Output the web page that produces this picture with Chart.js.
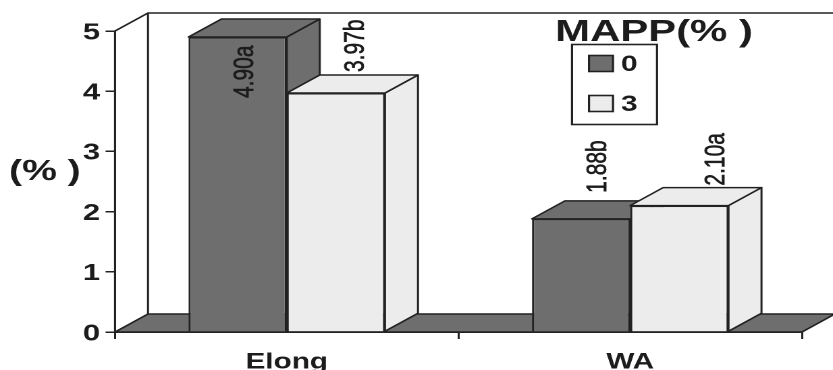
<!DOCTYPE html>
<html>
<head>
<meta charset="utf-8">
<title>MAPP</title>
<script src="https://cdn.jsdelivr.net/npm/chart.js@4"></script>
<style>
    html, body { margin: 0; padding: 0; background: #fff; overflow: hidden; }
    /* the figure is drawn narrow and widened, so the text gets its wide look too */
    #wrap { width: 833px; height: 370px; overflow: hidden; }
    #chart { display: block; transform: scaleX(1.35); transform-origin: 0 0; }
</style>
</head>
<body>
<div id="wrap"><canvas id="chart"></canvas></div>
<script>
var categories = ['Elong', 'WA'];
var seriesNames = ['0', '3'];
var values0 = [4.90, 1.88];
var values3 = [3.97, 2.10];
var labels0 = ['4.90a', '1.88b'];
var labels3 = ['3.97b', '2.10a'];
var yTicks = [0, 1, 2, 3, 4, 5];

var STRETCH = 1.35;
var WIDTH = Math.round(833 / STRETCH);
var HEIGHT = 370;
var DEPTH_X = 33 / STRETCH;
var DEPTH_Y = 18;
var LINE = '#222222';
var LINE_W = 1.5;
var DARK = '#6e6e6e';
var LIGHT = '#ececec';
var TEXT = '#1c1c1c';
var FONT = '"Liberation Sans", Arial, sans-serif';

// where each value label sits, relative to the bar centre and top: [dx, dy]
var labelShift0 = [[8, 61], [17, -26]];
var labelShift3 = [[20, -21], [37, -20]];

function rx(x) {
    return x / STRETCH;
}

function poly(ctx, pts, fill) {
    ctx.beginPath();
    ctx.moveTo(pts[0][0], pts[0][1]);
    for (var i = 1; i < pts.length; i++) {
        ctx.lineTo(pts[i][0], pts[i][1]);
    }
    ctx.closePath();
    if (fill) {
        ctx.fillStyle = fill;
        ctx.fill();
    }
    ctx.stroke();
}

// floor, walls and the top/side faces; the library paints the front faces afterwards
var box3d = {
    id: 'box3d',
    beforeDatasetsDraw: function(chart) {
        var ctx = chart.ctx;
        var area = chart.chartArea;
        var l = area.left, r = area.right, t = area.top, b = area.bottom;

        ctx.save();
        ctx.strokeStyle = LINE;
        ctx.lineWidth = LINE_W;
        ctx.lineJoin = 'round';

        poly(ctx, [[l, b], [l + DEPTH_X, b - DEPTH_Y], [r + DEPTH_X, b - DEPTH_Y], [r, b]], DARK);

        ctx.beginPath();
        ctx.moveTo(l, b);
        ctx.lineTo(l, t);
        ctx.lineTo(l + DEPTH_X, t - DEPTH_Y);
        ctx.lineTo(l + DEPTH_X, b - DEPTH_Y);
        ctx.moveTo(l + DEPTH_X, t - DEPTH_Y);
        ctx.lineTo(r + DEPTH_X, t - DEPTH_Y);
        ctx.stroke();

        chart.data.datasets.forEach(function(ds, i) {
            chart.getDatasetMeta(i).data.forEach(function(bar) {
                var x0 = bar.x - bar.width / 2;
                var x1 = bar.x + bar.width / 2;
                poly(ctx, [[x1, bar.y], [x1 + DEPTH_X, bar.y - DEPTH_Y], [x1 + DEPTH_X, bar.base - DEPTH_Y], [x1, bar.base]], ds.backgroundColor);
                poly(ctx, [[x0, bar.y], [x0 + DEPTH_X, bar.y - DEPTH_Y], [x1 + DEPTH_X, bar.y - DEPTH_Y], [x1, bar.y]], ds.backgroundColor);
            });
        });
        ctx.restore();
    }
};

// rotated value labels, axis caption and the legend block
var annotations = {
    id: 'annotations',
    afterDatasetsDraw: function(chart) {
        var ctx = chart.ctx;
        var allLabels = [labels0, labels3];
        var allShifts = [labelShift0, labelShift3];

        ctx.save();
        ctx.fillStyle = TEXT;
        ctx.strokeStyle = TEXT;
        ctx.lineWidth = 0.5;
        ctx.textBaseline = 'middle';
        ctx.textAlign = 'left';
        ctx.font = '21px ' + FONT;
        chart.data.datasets.forEach(function(ds, i) {
            chart.getDatasetMeta(i).data.forEach(function(bar, j) {
                ctx.save();
                ctx.translate(bar.x + rx(allShifts[i][j][0]), bar.y + allShifts[i][j][1]);
                ctx.rotate(-Math.PI / 2);
                ctx.fillText(allLabels[i][j], 0, 0);
                ctx.strokeText(allLabels[i][j], 0, 0);
                ctx.restore();
            });
        });

        ctx.textBaseline = 'alphabetic';
        ctx.font = 'bold 29px ' + FONT;
        ctx.fillText('(% )', rx(9), 180);

        ctx.textAlign = 'center';
        ctx.font = 'bold 31px ' + FONT;
        ctx.fillText('MAPP(% )', rx(654), 41);

        ctx.strokeStyle = LINE;
        ctx.lineWidth = 1.6;
        ctx.strokeRect(rx(572), 44.5, rx(85), 80);

        ctx.textAlign = 'left';
        ctx.font = 'bold 22px ' + FONT;
        chart.data.datasets.forEach(function(ds, i) {
            var y = 55.5 + i * 40;
            ctx.fillStyle = ds.backgroundColor;
            ctx.fillRect(rx(589), y, rx(24), 16);
            ctx.strokeRect(rx(589), y, rx(24), 16);
            ctx.fillStyle = TEXT;
            ctx.fillText(ds.label, rx(621), y + 15.5);
        });
        ctx.restore();
    }
};

var canvas = document.getElementById('chart');
canvas.width = WIDTH;
canvas.height = HEIGHT;

new Chart(canvas.getContext('2d'), {
    type: 'bar',
    data: {
        labels: categories,
        datasets: [
            { label: seriesNames[0], data: values0, backgroundColor: DARK, borderColor: LINE, borderWidth: LINE_W, clip: false },
            { label: seriesNames[1], data: values3, backgroundColor: LIGHT, borderColor: LINE, borderWidth: LINE_W, clip: false }
        ]
    },
    options: {
        responsive: false,
        animation: false,
        devicePixelRatio: 2,
        categoryPercentage: 0.572,
        barPercentage: 1,
        layout: {
            padding: { top: 31, right: WIDTH - rx(802), bottom: 0, left: 0 }
        },
        plugins: {
            legend: { display: false },
            title: { display: false },
            tooltip: { enabled: false }
        },
        scales: {
            x: {
                afterFit: function(scale) { scale.height = HEIGHT - 332; },
                grid: { drawOnChartArea: false, tickLength: 7, color: LINE, lineWidth: LINE_W },
                border: { color: LINE, width: LINE_W },
                ticks: { color: TEXT, padding: 10, maxRotation: 0, font: { family: FONT, size: 22, weight: 'bold' } }
            },
            y: {
                min: 0,
                max: 5,
                afterFit: function(scale) { scale.width = rx(115); },
                afterBuildTicks: function(scale) {
                    scale.ticks = yTicks.map(function(v) { return { value: v }; });
                },
                grid: { drawOnChartArea: false, tickLength: 7, color: LINE, lineWidth: LINE_W },
                border: { color: LINE, width: LINE_W },
                ticks: { color: TEXT, padding: 4, labelOffset: 2, font: { family: FONT, size: 23, weight: 'bold' } }
            }
        }
    },
    plugins: [box3d, annotations]
});
</script>
</body>
</html>
